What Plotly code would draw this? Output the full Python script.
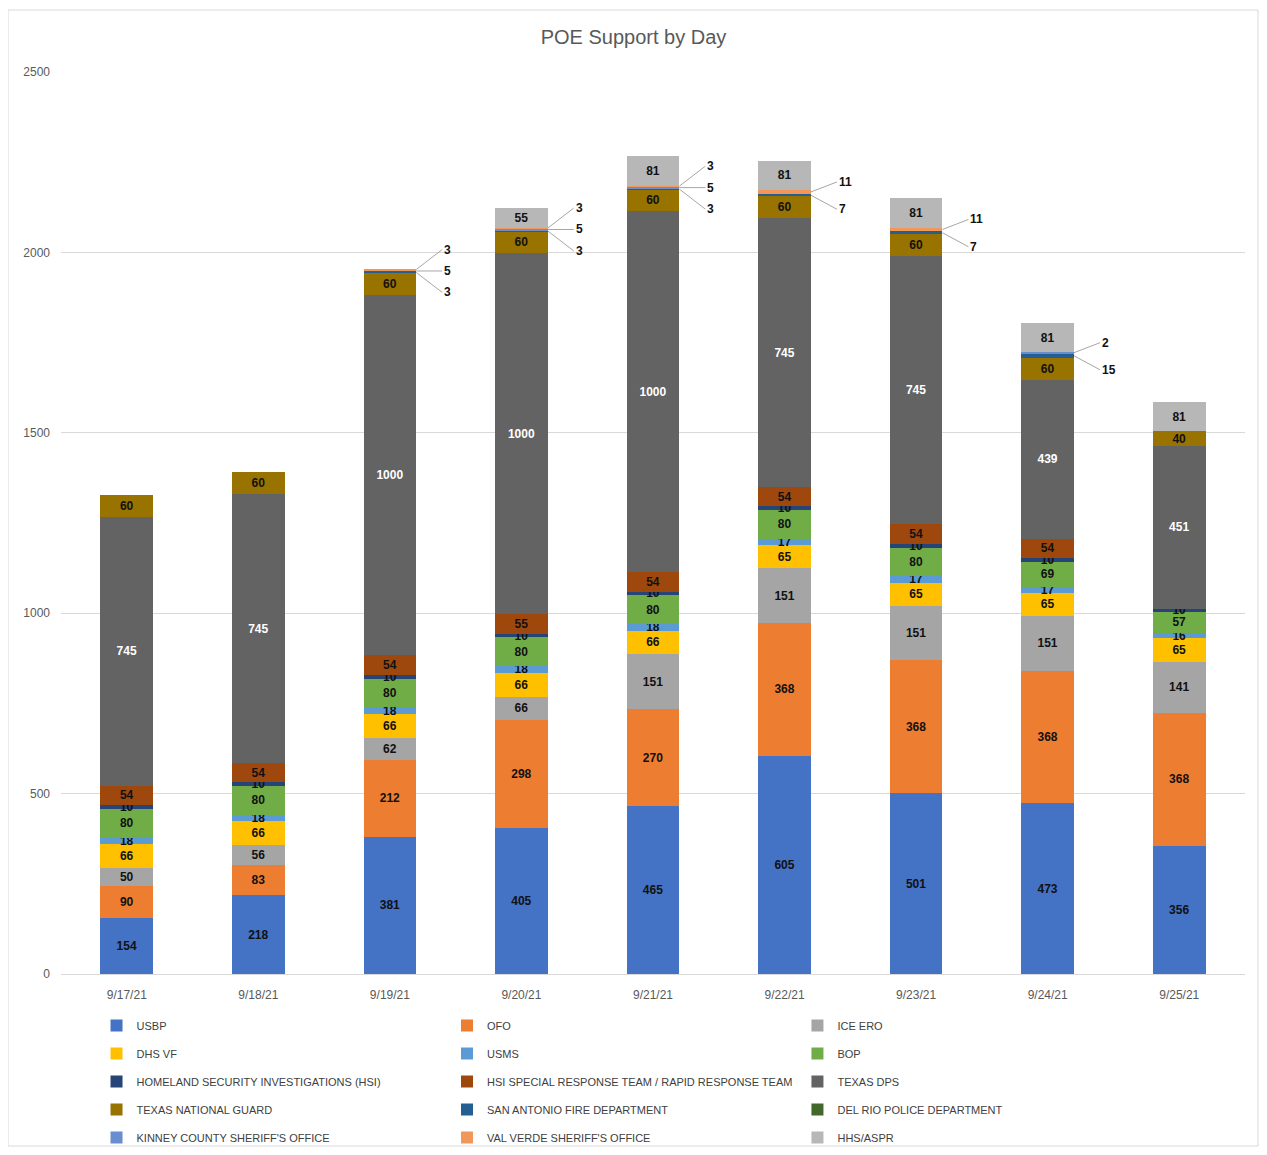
import plotly.graph_objects as go

days = ["9/17/21", "9/18/21", "9/19/21", "9/20/21", "9/21/21", "9/22/21", "9/23/21", "9/24/21", "9/25/21"]

usbp = [154, 218, 381, 405, 465, 605, 501, 473, 356]
ofo = [90, 83, 212, 298, 270, 368, 368, 368, 368]
ice_ero = [50, 56, 62, 66, 151, 151, 151, 151, 141]
dhs_vf = [66, 66, 66, 66, 66, 65, 65, 65, 65]
usms = [18, 18, 18, 18, 18, 17, 17, 17, 16]
bop = [80, 80, 80, 80, 80, 80, 80, 69, 57]
hsi = [10, 10, 10, 10, 10, 10, 10, 10, 10]
hsi_srt = [54, 54, 54, 55, 54, 54, 54, 54, 0]
texas_dps = [745, 745, 1000, 1000, 1000, 745, 745, 439, 451]
texas_ng = [60, 60, 60, 60, 60, 60, 60, 60, 40]
sa_fire = [0, 0, 3, 3, 3, 7, 7, 15, 0]
del_rio = [0, 0, 5, 0, 0, 0, 0, 0, 0]
kinney = [0, 0, 0, 5, 5, 0, 0, 2, 0]
val_verde = [0, 0, 3, 3, 3, 11, 11, 0, 0]
hhs_aspr = [0, 0, 0, 55, 81, 81, 81, 81, 81]

y_ticks = [0, 500, 1000, 1500, 2000, 2500]

series = [
    ("USBP", usbp, "#4472C4", "#111111", True),
    ("OFO", ofo, "#ED7D31", "#111111", True),
    ("ICE ERO", ice_ero, "#A5A5A5", "#111111", True),
    ("DHS VF", dhs_vf, "#FFC000", "#111111", True),
    ("USMS", usms, "#5B9BD5", "#111111", True),
    ("BOP", bop, "#70AD47", "#111111", True),
    ("HOMELAND SECURITY INVESTIGATIONS (HSI)", hsi, "#264478", "#111111", True),
    ("HSI SPECIAL RESPONSE TEAM / RAPID RESPONSE TEAM", hsi_srt, "#9E480E", "#111111", True),
    ("TEXAS DPS", texas_dps, "#636363", "#FFFFFF", True),
    ("TEXAS NATIONAL GUARD", texas_ng, "#997300", "#111111", True),
    ("SAN ANTONIO FIRE DEPARTMENT", sa_fire, "#255E91", "#111111", False),
    ("DEL RIO POLICE DEPARTMENT", del_rio, "#43682B", "#111111", False),
    ("KINNEY COUNTY SHERIFF'S OFFICE", kinney, "#698ED0", "#111111", False),
    ("VAL VERDE SHERIFF'S OFFICE", val_verde, "#F1975A", "#111111", False),
    ("HHS/ASPR", hhs_aspr, "#B7B7B7", "#111111", True),
]

FONT = "Liberation Sans Narrow, Arial Narrow, Liberation Sans, Arial, sans-serif"
BAR_W = 0.4

# figure sits at page offset (8, 8) because of the default body margin
WID, HGT = 1251, 1139
ML, MR, MT, MB = 53, 14, 64, 173
PW, PH = WID - ML - MR, HGT - MT - MB

fig = go.Figure()
legend_ids = ["legend", "legend2", "legend3"]
for k, (name, vals, color, tcolor, inside) in enumerate(series):
    texts = [str(v) if (inside and v > 0) else "" for v in vals]
    fig.add_trace(go.Bar(
        name=name, x=days, y=vals, marker_color=color, marker_line_width=0,
        width=BAR_W, text=texts, textposition="inside", insidetextanchor="middle",
        textangle=0, constraintext="none",
        textfont=dict(color=tcolor, size=12, family=FONT, weight="bold"),
        legend=legend_ids[k % 3], legendgroup=name,
        hoverinfo="name+y",
    ))

# callout labels for thin segments
small_idx = [10, 11, 12, 13]
annotations = []
for i in range(len(days)):
    base = sum(series[k][1][i] for k in range(10))
    items = []
    cum = base
    for k in small_idx:
        v = series[k][1][i]
        if v > 0:
            items.append((v, cum + v / 2))
        cum += v
    n = len(items)
    if n == 3:
        offs = [20, 0, -20]
    elif n == 2:
        offs = [14, -10]
    else:
        offs = [0] * n
    for (v, yc), ay in zip(items, offs):
        annotations.append(dict(
            x=i + BAR_W / 2, y=yc, xref="x", yref="y", text="<b>%d</b>" % v,
            showarrow=True, arrowhead=0, arrowwidth=1, arrowcolor="#A6A6A6",
            ax=26, ay=ay, xanchor="left", standoff=0,
            font=dict(size=12, color="#111111", family=FONT),
        ))

fig.update_layout(
    width=WID, height=HGT,
    barmode="stack",
    paper_bgcolor="white", plot_bgcolor="white",
    margin=dict(l=ML, r=MR, t=MT, b=MB, autoexpand=False),
    title=dict(text="POE Support by Day", x=0.5, xref="container", y=1 - 29 / HGT,
               yanchor="middle", font=dict(size=20, color="#595959", family=FONT)),
    font=dict(family=FONT, color="#595959", size=12),
    yaxis=dict(range=[0, 2500], tickvals=y_ticks, showgrid=True, gridcolor="#D9D9D9",
               gridwidth=1, zeroline=False, ticks="", tickfont=dict(size=12, color="#595959"),
               ticklabelstandoff=10, showline=False),
    xaxis=dict(type="category", showline=True, linecolor="#D9D9D9", ticks="",
               ticklabelstandoff=10, tickfont=dict(size=12, color="#595959")),
    annotations=annotations,
    showlegend=True,
)
leg_top = 1 - (1003) / HGT
leg_common = dict(orientation="v", yref="container", yanchor="top", y=leg_top, xanchor="left",
                  font=dict(size=11, color="#404040", family=FONT),
                  tracegroupgap=9, itemwidth=30, bgcolor="rgba(0,0,0,0)",
                  itemclick=False, itemdoubleclick=False)
fig.update_layout(
    legend=dict(x=0.030, **leg_common),
    legend2=dict(x=0.326, **leg_common),
    legend3=dict(x=0.622, **leg_common),
)

# thin outer chart border
bx0, bx1, by0, by1 = 0, WID - 1, 2, HGT - 1
fig.add_shape(type="rect", xref="paper", yref="paper",
              x0=(bx0 - ML) / PW, x1=(bx1 - ML) / PW,
              y0=(MT + PH - by1) / PH, y1=(MT + PH - by0) / PH,
              line=dict(color="#D9D9D9", width=1), fillcolor="rgba(0,0,0,0)", layer="below")

fig.write_html("out.html")
